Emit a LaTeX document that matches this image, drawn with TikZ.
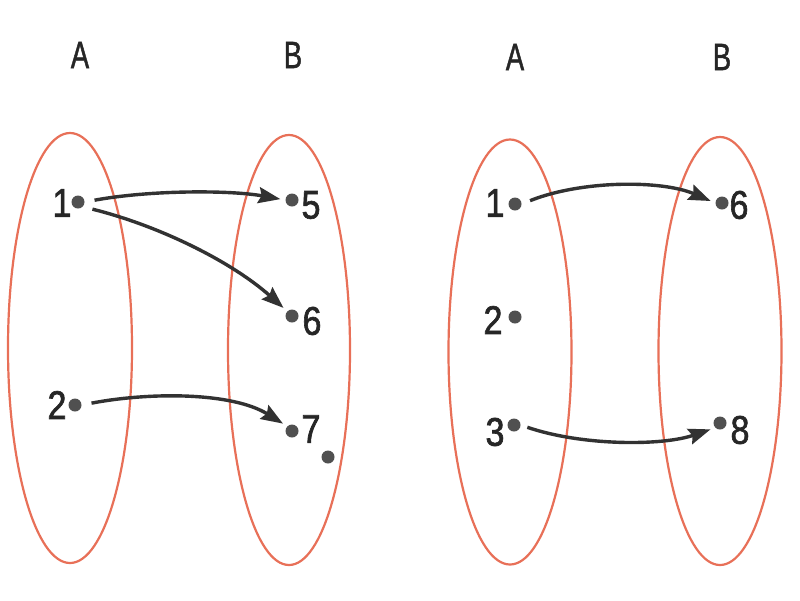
\documentclass[tikz,border=0pt]{standalone}
\usepackage{fontspec}
\setmainfont{Liberation Sans}[FakeStretch=0.85]
\newfontfamily\digitfont{Liberation Sans}[FakeStretch=0.85,FakeBold=1.6]
\newfontfamily\headfont{Liberation Sans}[FakeStretch=0.72,FakeBold=1.2]
\usetikzlibrary{shapes.geometric,arrows.meta}
\definecolor{setred}{RGB}{232,112,88}
\definecolor{dotgray}{RGB}{80,80,80}
\definecolor{arrgray}{RGB}{50,50,50}
\tikzset{
  setell/.style={draw=setred, line width=2.2pt, ellipse, inner sep=0pt},
  pt/.style={circle, fill=dotgray, inner sep=0pt, minimum size=13pt},
  lab/.style={font=\digitfont\fontsize{40}{40}\selectfont, text=black!85, inner sep=0pt},
  head/.style={font=\headfont\fontsize{38}{40}\selectfont, text=black!85, inner sep=0pt},
  maparrow/.style={draw=arrgray, line width=3.4pt, -{Stealth[length=22pt,width=16pt,inset=3pt]}},
}
\begin{document}
\begin{tikzpicture}[x=1pt,y=-1pt]
\useasboundingbox (0,0) rectangle (800,600);
\fill[white] (0,0) rectangle (800,600);
% ellipses
\node[setell, minimum width=124pt, minimum height=430pt] (eA1) at (70,348) {};
\node[setell, minimum width=122pt, minimum height=430pt] (eB1) at (289,350) {};
\node[setell, minimum width=123pt, minimum height=425pt] (eA2) at (510,352) {};
\node[setell, minimum width=123pt, minimum height=428pt] (eB2) at (720,351) {};
% headings
\node[head] (hA1) at (80,55) {A};
\node[head] (hB1) at (293,55) {B};
\node[head] (hA2) at (515,57) {A};
\node[head] (hB2) at (722,57) {B};
% left points
\node[pt] (l1) at (78,202) {};
\node[lab] (t l1) at (62,203) {1};
\node[pt] (l2) at (75,405) {};
\node[lab] (t l2) at (57,405) {2};
\node[pt] (l5) at (292,200) {};
\node[lab] (t l5) at (311,205) {5};
\node[pt] (l6) at (292,316) {};
\node[lab] (t l6) at (312,321) {6};
\node[pt] (l7) at (292,431) {};
\node[lab] (t l7) at (311,429) {7};
\node[pt] (lx) at (328,457) {};
% right points
\node[pt] (r1) at (515,204) {};
\node[lab] (t r1) at (495,203) {1};
\node[pt] (r2) at (515,317) {};
\node[lab] (t r2) at (493,320) {2};
\node[pt] (r3) at (514,425) {};
\node[lab] (t r3) at (495,432) {3};
\node[pt] (r6) at (722,203) {};
\node[lab] (t r6) at (739,205) {6};
\node[pt] (r8) at (720,423) {};
\node[lab] (t r8) at (740,430) {8};
% arrows
\draw[maparrow, shorten <=10pt, shorten >=5pt] (l1.east) .. controls (150,190) and (230,190) .. (l5.west);
\draw[maparrow, shorten <=10pt, shorten >=5pt] (l1.south east) .. controls (160,226) and (232,262) .. (l6.north west);
\draw[maparrow, shorten <=10pt, shorten >=5pt] (l2.east) .. controls (150,392) and (232,392) .. (l7.north west);
\draw[maparrow, shorten <=9pt, shorten >=5pt] (r1.east) .. controls (582,180) and (662,180) .. (r6.west);
\draw[maparrow, shorten <=7pt, shorten >=5pt] (r3.east) .. controls (582,446) and (662,446) .. (r8.south west);
\end{tikzpicture}
\end{document}
